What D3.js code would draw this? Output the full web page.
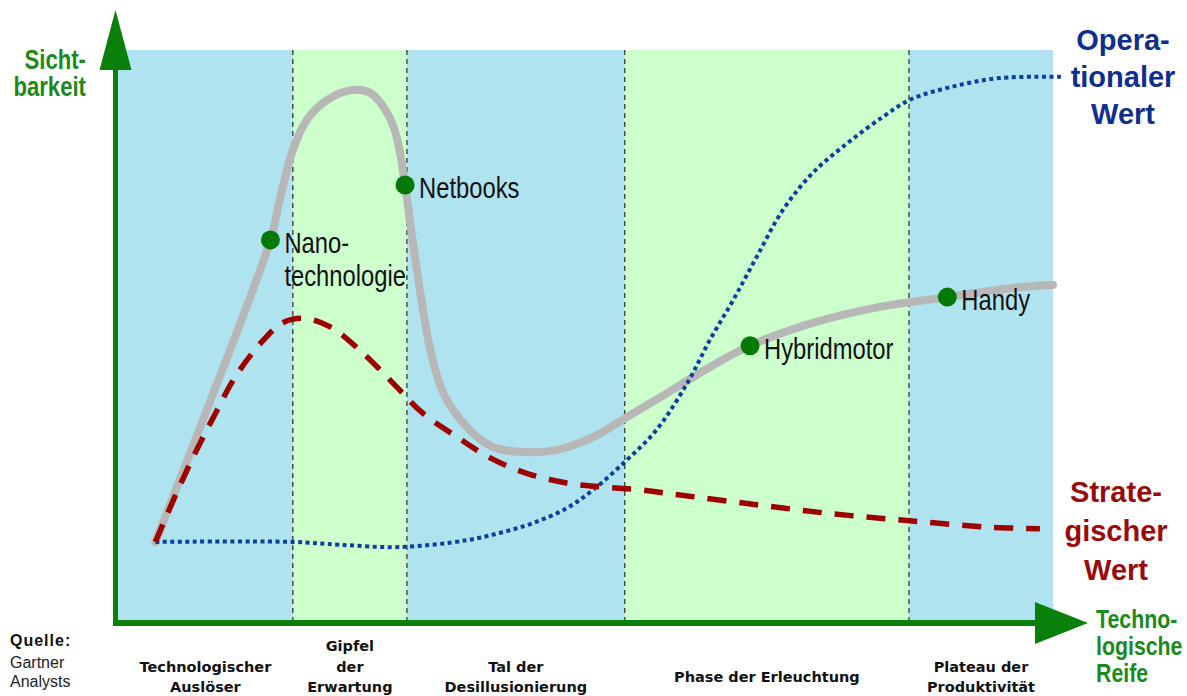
<!DOCTYPE html>
<html lang="de">
<head>
<meta charset="UTF-8">
<title>Hype Cycle</title>
<style>
  body { margin: 0; background: #fff; }
  svg { display: block; }
</style>
<script src="https://d3js.org/d3.v7.min.js"></script>
</head>
<body>
<script>
// phases along the x axis (technological maturity, 0..100)
var phaseNames = [["Technologischer", "Auslöser"], ["Gipfel", "der", "Erwartung"],
                  ["Tal der", "Desillusionierung"], ["Phase der Erleuchtung"],
                  ["Plateau der", "Produktivität"]];
var phaseBounds = [0, 18.7, 30.9, 54.2, 84.6, 100];

// hype curve (visibility)
var hypeX = [4.0, 8.8, 16.3, 17.3, 18.7, 20.2, 22.4, 25.1, 27.0, 28.8, 29.8, 30.7, 31.4, 33.4, 34.8,
             37.3, 40.1, 43.7, 47.0, 50.8, 54.4, 58.0, 62.2, 67.6, 74.3, 81.5, 88.7, 95.7, 100];
var hypeY = [14.0, 34.1, 66.8, 73.8, 82.5, 87.8, 91.3, 93.0, 92.5, 89.0, 84.8, 76.4, 68.0, 47.6, 40.0,
             34.1, 30.6, 29.7, 30.1, 32.3, 35.8, 39.3, 43.5, 48.3, 52.3, 55.1, 56.8, 58.4, 58.9];

// strategic value
var stratX = [4.0, 6.3, 8.3, 10.4, 12.6, 15.4, 17.6, 19.8, 22.7, 26.2, 29.8, 32.6, 36.3, 39.8, 43.7,
              48.0, 51.9, 55.8, 60.1, 68.3, 76.5, 84.7, 92.9, 98.6];
var stratY = [14.0, 22.7, 29.7, 36.4, 43.0, 49.0, 52.3, 53.1, 51.6, 47.0, 41.1, 36.5, 32.3, 28.7, 26.0,
              24.3, 23.6, 23.1, 22.2, 20.5, 18.9, 17.7, 16.6, 16.3];

// operational value
var operX = [4.0, 18.7, 23.7, 30.2, 37.3, 40.9, 44.4, 48.0, 50.8, 54.4, 57.6, 60.9, 63.3, 65.8,
             68.3, 71.1, 74.3, 78.0, 81.8, 84.7, 89.0, 94.3, 101.0];
var operY = [14.0, 14.0, 13.5, 13.1, 14.3, 15.6, 17.3, 19.9, 23.1, 28.3, 33.6, 41.8, 49.3, 56.3,
             63.8, 72.0, 78.5, 83.7, 88.3, 91.3, 93.5, 95.1, 95.3];

// technologies on the hype curve
var itemNames = ["Nano-\ntechnologie", "Netbooks", "Hybridmotor", "Handy"];
var itemX = [16.3, 30.7, 67.6, 88.7];
var itemY = [66.8, 76.4, 48.3, 56.8];

var width = 1187, height = 696;
var mLeft = 118, mRight = 1053, mTop = 50, mBottom = 622;

var x = d3.scaleLinear().domain([0, 100]).range([mLeft, mRight]);
var y = d3.scaleLinear().domain([0, 100]).range([mBottom, mTop]);

var svg = d3.select("body").append("svg")
    .attr("width", width)
    .attr("height", height);

var blueBg = "#b0e3f0", greenBg = "#ccffcc", axisGreen = "#0a800a";
var narrowScale = 0.82;   // no narrow font installed, squeeze the regular one
var sans = "'Liberation Sans', Arial, sans-serif";

// phase bands
var bands = phaseNames.map(function(n, i) { return {lines: n, x0: phaseBounds[i], x1: phaseBounds[i + 1], i: i}; });

svg.selectAll("rect.band")
    .data(bands)
    .enter().append("rect")
    .attr("class", "band")
    .attr("x", function(d) { return x(d.x0); })
    .attr("y", y(100))
    .attr("width", function(d) { return x(d.x1) - x(d.x0); })
    .attr("height", y(0) - y(100))
    .attr("fill", function(d) { return d.i % 2 ? greenBg : blueBg; });

svg.selectAll("line.sep")
    .data(phaseBounds.slice(1, -1))
    .enter().append("line")
    .attr("class", "sep")
    .attr("x1", function(d) { return x(d); })
    .attr("x2", function(d) { return x(d); })
    .attr("y1", y(100))
    .attr("y2", y(0))
    .attr("stroke", "#2a2a2a")
    .attr("stroke-width", 1.2)
    .attr("stroke-dasharray", "5,4");

// curves
var line = d3.line()
    .x(function(d) { return x(d[0]); })
    .y(function(d) { return y(d[1]); })
    .curve(d3.curveCatmullRom.alpha(0.5));

function pairs(xs, ys) { return xs.map(function(v, i) { return [v, ys[i]]; }); }

svg.append("path")
    .attr("d", line(pairs(hypeX, hypeY)))
    .attr("fill", "none")
    .attr("stroke", "#b7b7b7")
    .attr("stroke-width", 8)
    .attr("stroke-linecap", "round");

svg.append("path")
    .attr("d", line(pairs(operX, operY)))
    .attr("fill", "none")
    .attr("stroke", "#0c3f9e")
    .attr("stroke-width", 4)
    .attr("stroke-dasharray", "4,3.5");

svg.append("path")
    .attr("d", line(pairs(stratX, stratY)))
    .attr("fill", "none")
    .attr("stroke", "#9e0000")
    .attr("stroke-width", 5.5)
    .attr("stroke-dasharray", "19,13");

// technology dots + labels
var items = itemNames.map(function(n, i) { return {name: n, x: itemX[i], y: itemY[i]}; });
var it = svg.selectAll("g.item")
    .data(items)
    .enter().append("g")
    .attr("class", "item")
    .attr("transform", function(d) { return "translate(" + x(d.x) + "," + y(d.y) + ")"; });

it.append("circle")
    .attr("r", 9.5)
    .attr("fill", "#067a06");

it.append("text")
    .attr("transform", "scale(" + narrowScale + ",1)")
    .attr("font-family", sans)
    .attr("font-size", 29)
    .attr("fill", "#111")
    .selectAll("tspan")
    .data(function(d) { return d.name.split("\n"); })
    .enter().append("tspan")
    .attr("x", 14 / narrowScale)
    .attr("y", function(d, i) { return 13 + i * 33; })
    .text(function(d) { return d; });

// axes with arrow heads
svg.append("line")
    .attr("x1", mLeft - 2.5).attr("x2", mLeft - 2.5)
    .attr("y1", mBottom + 4).attr("y2", 60)
    .attr("stroke", axisGreen).attr("stroke-width", 5);
svg.append("path")
    .attr("d", "M" + (mLeft - 2.5) + ",10 L" + (mLeft - 18.5) + ",70 L" + (mLeft + 13.5) + ",70 Z")
    .attr("fill", axisGreen);

svg.append("line")
    .attr("x1", mLeft - 5).attr("x2", 1045)
    .attr("y1", mBottom + 1).attr("y2", mBottom + 1)
    .attr("stroke", axisGreen).attr("stroke-width", 6);
svg.append("path")
    .attr("d", "M1088," + (mBottom + 1) + " L1035," + (mBottom - 20) + " L1035," + (mBottom + 22) + " Z")
    .attr("fill", axisGreen);

// phase labels below the axis
svg.selectAll("text.phase")
    .data(bands)
    .enter().append("text")
    .attr("class", "phase")
    .attr("text-anchor", "middle")
    .attr("font-family", "'DejaVu Sans', Verdana, sans-serif")
    .attr("font-weight", "bold")
    .attr("font-size", 14.5)
    .attr("fill", "#111")
    .each(function(d) {
        var n = d.lines.length;
        var first = 682 - (n - 1) * 10.25;
        var last = first + (n - 1) * 20.5;
        if (last > 692) first -= last - 692;
        d3.select(this).selectAll("tspan")
            .data(d.lines)
            .enter().append("tspan")
            .attr("x", x((d.x0 + d.x1) / 2))
            .attr("y", function(t, i) { return first + i * 20.5; })
            .text(function(t) { return t; });
    });

// multi-line bold text; sx < 1 squeezes it horizontally
function block(lines, xPos, y0, dy, anchor, color, size, sx) {
    var t = svg.append("text")
        .attr("transform", "translate(" + xPos + ",0) scale(" + sx + ",1)")
        .attr("text-anchor", anchor)
        .attr("font-family", sans)
        .attr("font-weight", "bold")
        .attr("font-size", size)
        .attr("fill", color);
    lines.forEach(function(s, i) {
        t.append("tspan").attr("x", 0).attr("y", y0 + i * dy).text(s);
    });
    return t;
}

block(["Sicht-", "barkeit"], 86, 69, 27, "end", "#1b8a1b", 27, narrowScale);
block(["Techno-", "logische", "Reife"], 1096, 628, 27, "start", "#1b8a1b", 26, narrowScale);
block(["Opera-", "tionaler", "Wert"], 1123, 50, 37, "middle", "#102e8e", 29, 1);
block(["Strate-", "gischer", "Wert"], 1116, 502, 39, "middle", "#990a0a", 29, 1);

// source
svg.append("text")
    .attr("x", 10).attr("y", 646)
    .attr("font-family", sans).attr("font-weight", "bold").attr("font-size", 16)
    .attr("letter-spacing", 1)
    .attr("fill", "#111")
    .text("Quelle:");
svg.append("text")
    .attr("font-family", sans).attr("font-size", 16).attr("fill", "#222")
    .selectAll("tspan")
    .data(["Gartner", "Analysts"])
    .enter().append("tspan")
    .attr("x", 10)
    .attr("y", function(d, i) { return 668 + i * 19; })
    .text(function(d) { return d; });
</script>
</body>
</html>
